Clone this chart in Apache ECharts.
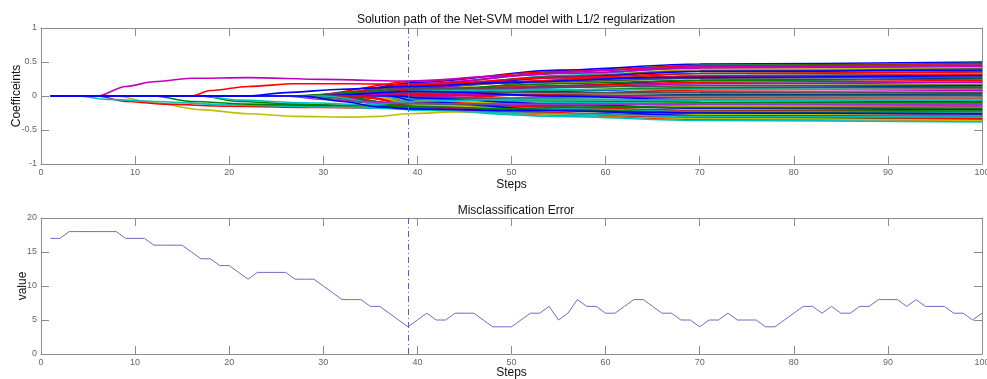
<!DOCTYPE html>
<html>
<head>
<meta charset="utf-8">
<script src="https://cdn.jsdelivr.net/npm/echarts@6/dist/echarts.min.js"></script>
<style>
html, body { margin: 0; padding: 0; background: #fff; }
#chart { width: 987px; height: 379px; }
</style>
</head>
<body>
<div id="chart"></div>
<script>
// matlab default colour order
var pathColors = ['#0000ff', '#008000', '#ff0000', '#00bfbf', '#bf00bf', '#bfbf00', '#505050'];

// misclassification error, steps 1..100
var errorValues = [17,17,18,18,18,18,18,18,17,17, 17,16,16,16,16,15,14,14,13,13,
                   12,11,12,12,12,12,11,11,11,10, 9,8,8,8,7,7,6,5,4,5,
                   6,5,5,6,6,6,5,4,4,4, 5,6,6,7,5,6,8,7,7,6,
                   6,7,8,8,7,6,6,5,5,4, 5,5,6,5,5,5,4,4,5,6,
                   7,7,6,7,6,6,7,7,8,8, 8,7,8,7,7,7,6,6,5,6];
var bestStep = 39;

// coefficient paths of the dense band: step where each leaves zero, value at steps 40, 55, 70, 100
var bandEntry = [30,33,28,35,31,36,27,34,37,29, 38,32,35,30,36,26,33,37,28,34,
                 31,38,35,29,36,32,37,30,34,38, 27,35,31,36,33,29,37,32,35,28,
                 34,30,38,26,33,36,31,35,29,37, 32,34,30];
var bandAt40 = [0.20,0.16,0.22,0.10,0.18,0.08,0.14,0.12,0.05,0.17, 0.03,0.13,0.07,0.15,0.02,0.10,0.09,0.04,0.06,-0.02,
                0.11,0.00,0.05,-0.04,0.08,-0.01,0.02,0.06,-0.06,0.01, 0.03,-0.03,0.04,-0.08,-0.02,0.07,-0.05,-0.10,-0.04,-0.12,
                -0.07,-0.14,-0.03,-0.15,-0.09,-0.11,-0.16,-0.13,-0.18,-0.08, -0.19,-0.17,-0.21];
var bandAt55 = [0.38,0.35,0.36,0.30,0.33,0.28,0.29,0.27,0.22,0.27, 0.19,0.23,0.19,0.21,0.15,0.18,0.15,0.12,0.13,0.08,
                0.13,0.07,0.09,0.03,0.09,0.03,0.04,0.05,-0.02,0.01, 0.01,-0.03,0.00,-0.06,-0.05,0.00,-0.08,-0.11,-0.09,-0.13,
                -0.12,-0.16,-0.12,-0.18,-0.17,-0.19,-0.22,-0.22,-0.25,-0.21, -0.27,-0.28,-0.30];
var bandAt70 = [0.47,0.45,0.44,0.42,0.41,0.39,0.37,0.36,0.33,0.33, 0.30,0.29,0.27,0.26,0.23,0.23,0.20,0.18,0.18,0.15,
                0.15,0.12,0.12,0.09,0.10,0.06,0.05,0.05,0.02,0.01, 0.00,-0.02,-0.03,-0.05,-0.06,-0.06,-0.09,-0.12,-0.12,-0.15,
                -0.16,-0.18,-0.18,-0.21,-0.22,-0.23,-0.26,-0.27,-0.29,-0.29, -0.32,-0.34,-0.36];
var bandAt100 = [0.50,0.48,0.46,0.45,0.43,0.41,0.40,0.38,0.36,0.35, 0.33,0.31,0.30,0.28,0.26,0.25,0.23,0.21,0.20,0.18,
                 0.16,0.15,0.13,0.11,0.10,0.08,0.06,0.05,0.03,0.01, 0.00,-0.02,-0.04,-0.05,-0.07,-0.09,-0.10,-0.12,-0.14,-0.15,
                 -0.17,-0.19,-0.20,-0.22,-0.24,-0.25,-0.27,-0.29,-0.30,-0.32, -0.34,-0.36,-0.38];

// paths that leave zero early, as [step, value]
var pathMagenta = [[1,0],[6,0],[9,0.14],[12,0.21],[16,0.26],[22,0.27],[30,0.245],[39,0.22],[50,0.30],[60,0.38],[70,0.43],[100,0.45]];
var pathRedUp = [[1,0],[16,0],[18,0.08],[22,0.14],[27,0.18],[33,0.18],[39,0.17],[50,0.21],[60,0.27],[75,0.30],[100,0.31]];
var pathYellow = [[1,0],[8,0],[12,-0.10],[17,-0.20],[22,-0.26],[27,-0.30],[33,-0.31],[36,-0.30],[39,-0.26],[45,-0.23],[55,-0.27],[70,-0.33],[100,-0.36]];
var pathRedDown = [[1,0],[6,0],[9,-0.08],[13,-0.12],[20,-0.15],[30,-0.17],[39,-0.18],[50,-0.23],[65,-0.30],[100,-0.33]];
var pathCyan = [[1,0],[4,0],[7,-0.05],[12,-0.08],[20,-0.13],[30,-0.16],[39,-0.19],[50,-0.25],[70,-0.30],[100,-0.31]];
var pathGreen = [[1,0],[12,0],[16,-0.08],[22,-0.12],[30,-0.14],[39,-0.15],[50,-0.19],[70,-0.24],[100,-0.26]];
var pathGreen2 = [[1,0],[17,0],[21,-0.08],[27,-0.12],[33,-0.14],[39,-0.11],[50,-0.13],[70,-0.17],[100,-0.18]];
var pathCyan2 = [[1,0],[17,0],[21,-0.06],[28,-0.10],[35,-0.13],[39,-0.08],[50,-0.05],[70,-0.06],[100,-0.06]];
var pathPurple = [[1,0],[26,0],[30,-0.05],[35,-0.09],[39,-0.11],[50,-0.12],[70,-0.12],[100,-0.13]];
var pathBlueDown = [[1,0],[28,0],[32,-0.08],[36,-0.16],[39,-0.19],[50,-0.21],[70,-0.25],[100,-0.26]];
var pathBlue = [[1,0],[22,0],[26,0.05],[32,0.10],[39,0.14],[50,0.20],[65,0.27],[100,0.30]];

var earlyPaths = [
    [pathMagenta, '#bf00bf'], [pathRedUp, '#ff0000'], [pathYellow, '#bfbf00'],
    [pathRedDown, '#ff0000'], [pathCyan, '#00bfbf'], [pathGreen, '#008000'],
    [pathGreen2, '#008000'], [pathCyan2, '#00bfbf'], [pathPurple, '#9933cc'],
    [pathBlueDown, '#0000ff'], [pathBlue, '#0000ff']
];

var font = '"Liberation Sans", Arial, sans-serif';
var boxColor = '#8c8c8c';

function boxAxis(extra) {
    var a = {
        type: 'value',
        nameMoveOverlap: false,
        axisLine: { show: true, onZero: false, lineStyle: { color: boxColor, width: 1 } },
        axisTick: { show: true, inside: true, length: 8, lineStyle: { color: boxColor } },
        axisLabel: { color: '#666', fontSize: 9, fontFamily: font, margin: 4 },
        splitLine: { show: false }
    };
    for (var k in extra) a[k] = extra[k];
    return a;
}

function xAxisPair(gridIndex, gap) {
    return [
        boxAxis({ gridIndex: gridIndex, min: 0, max: 100, interval: 10, position: 'bottom',
                  name: 'Steps', nameLocation: 'middle', nameGap: gap,
                  nameTextStyle: { color: '#111', fontSize: 12, fontFamily: font } }),
        boxAxis({ gridIndex: gridIndex, min: 0, max: 100, interval: 10, position: 'top',
                  axisLabel: { show: false } })
    ];
}

function yAxisPair(gridIndex, min, max, interval, name, gap) {
    return [
        boxAxis({ gridIndex: gridIndex, min: min, max: max, interval: interval, position: 'left',
                  name: name, nameLocation: 'middle', nameGap: gap,
                  nameTextStyle: { color: '#111', fontSize: 12, fontFamily: font } }),
        boxAxis({ gridIndex: gridIndex, min: min, max: max, interval: interval, position: 'right',
                  axisLabel: { show: false } })
    ];
}

var bestLine = {
    silent: true, symbol: 'none',
    label: { show: false },
    lineStyle: { color: '#5a5ad2', width: 1, type: [6, 3, 1, 3] },
    data: [{ xAxis: bestStep }]
};

var series = [];
for (var i = 0; i < bandEntry.length; i++) {
    series.push({
        type: 'line', xAxisIndex: 0, yAxisIndex: 0,
        showSymbol: false, silent: true, smooth: 0.3, smoothMonotone: 'x',
        lineStyle: { width: 1.6, color: pathColors[i % pathColors.length] },
        data: [[1, 0], [bandEntry[i], 0], [40, bandAt40[i]], [55, bandAt55[i]], [70, bandAt70[i]], [100, bandAt100[i]]]
    });
}
earlyPaths.forEach(function (p) {
    series.push({
        type: 'line', xAxisIndex: 0, yAxisIndex: 0,
        showSymbol: false, silent: true, smooth: 0.3, smoothMonotone: 'x',
        lineStyle: { width: 1.6, color: p[1] },
        data: p[0]
    });
});
series[series.length - 1].markLine = bestLine;

series.push({
    type: 'line', xAxisIndex: 2, yAxisIndex: 2,
    showSymbol: false, silent: true,
    lineStyle: { width: 1, color: '#6c6cc8' },
    data: errorValues.map(function (v, k) { return [k + 1, v]; }),
    markLine: bestLine
});

var chart = echarts.init(document.getElementById('chart'));
chart.setOption({
    animation: false,
    backgroundColor: '#fff',
    title: [{
        text: 'Solution path of the Net-SVM model with L1/2 regularization',
        left: 511, top: 9, textAlign: 'center',
        textStyle: { color: '#111', fontSize: 12, fontWeight: 'normal', fontFamily: font }
    }, {
        text: 'Misclassification Error',
        left: 511, top: 200, textAlign: 'center',
        textStyle: { color: '#111', fontSize: 12, fontWeight: 'normal', fontFamily: font }
    }],
    grid: [
        { left: 41, right: 5, top: 28, height: 136, outerBoundsMode: 'none', containLabel: false },
        { left: 41, right: 5, top: 218, height: 136, outerBoundsMode: 'none', containLabel: false }
    ],
    xAxis: xAxisPair(0, 15).concat(xAxisPair(1, 13)),
    yAxis: yAxisPair(0, -1, 1, 0.5, 'Coefficeints', 18).concat(yAxisPair(1, 0, 20, 5, 'value', 12)),
    series: series
});
</script>
</body>
</html>
